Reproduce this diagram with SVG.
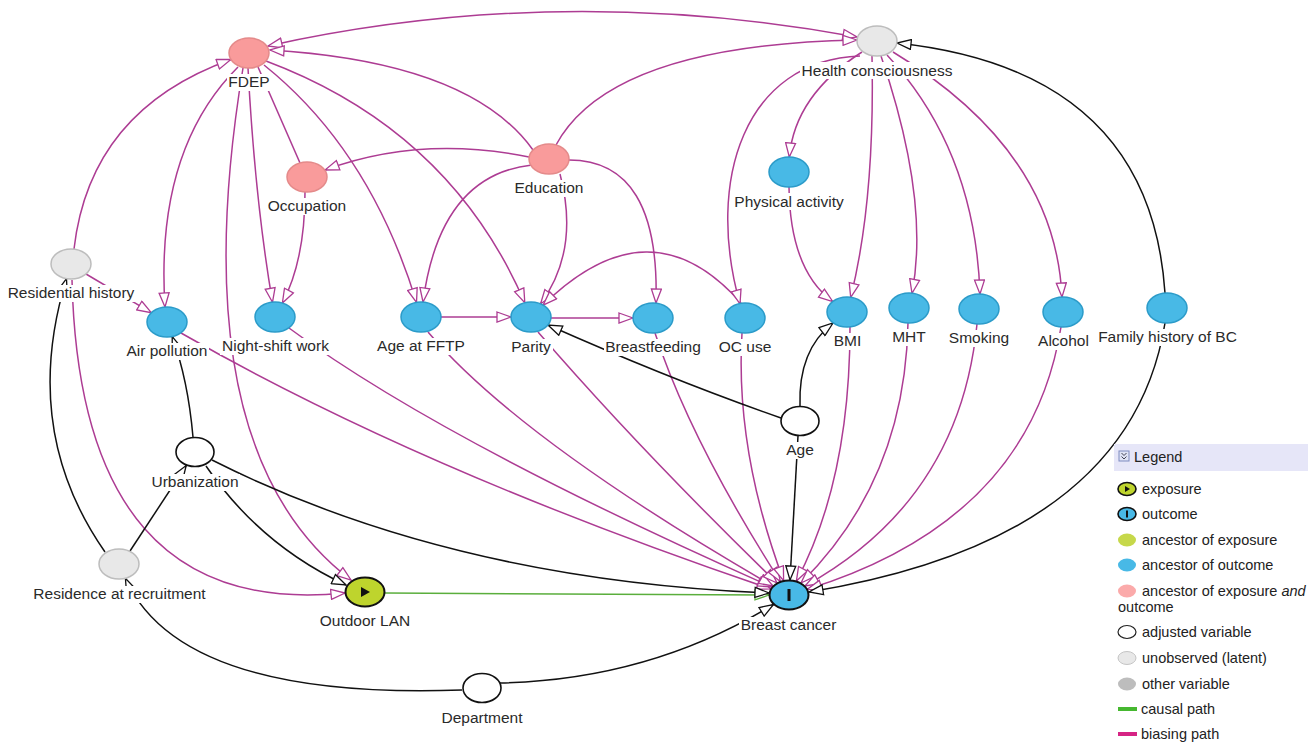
<svg xmlns="http://www.w3.org/2000/svg" width="1308" height="743" viewBox="0 0 1308 743">
<defs>
<style>
text{font-family:"Liberation Sans",Arial,sans-serif;font-size:15.5px;fill:#2a2a2a}
.lt{font-size:14.5px;fill:#222}
.p{fill:none;stroke:#ad3c93;stroke-width:1.5;marker-end:url(#ap)}
.b{fill:none;stroke:#111;stroke-width:1.5;marker-end:url(#ab)}
.g{fill:none;stroke:#5aae3c;stroke-width:1.5;marker-end:url(#ag)}
.bg{fill:#fff}
.anc{fill:#f99b9b;stroke:#e48a8a;stroke-width:1.5}
.out{fill:#48b9e6;stroke:#2b9bc9;stroke-width:1.5}
.lat{fill:#e8e8e8;stroke:#bdbdbd;stroke-width:1.5}
.adj{fill:#fff;stroke:#111;stroke-width:1.6}
</style>
<marker id="ap" viewBox="-1 -1 16 12" refX="14" refY="5" markerWidth="16" markerHeight="12" orient="auto-start-reverse" markerUnits="userSpaceOnUse"><path d="M0,0 L14,5 L0,10 Z" fill="#fff" stroke="#ad3c93" stroke-width="1.3"/></marker>
<marker id="ab" viewBox="-1 -1 16 12" refX="14" refY="5" markerWidth="16" markerHeight="12" orient="auto" markerUnits="userSpaceOnUse"><path d="M0,0 L14,5 L0,10 Z" fill="#fff" stroke="#111" stroke-width="1.3"/></marker>
<marker id="ag" viewBox="-1 -1 16 12" refX="14" refY="5" markerWidth="16" markerHeight="12" orient="auto" markerUnits="userSpaceOnUse"><path d="M0,0 L14,5 L0,10 Z" fill="#fff" stroke="#5aae3c" stroke-width="1.3"/></marker>
</defs>
<rect width="1308" height="743" fill="#fff"/>

<g id="connectors">
<path class="p" d="M268,46 Q557,-18 857,37" marker-start="url(#ap)"/>
<path class="p" d="M533,150 Q470,62 270,50"/>
<path class="p" d="M556,145 Q610,45 857,40"/>
<path class="p" d="M529,157 Q420,135 325,170"/>
<path class="p" d="M532,165 Q440,175 423,302"/>
<path class="p" d="M560,174 Q580,250 540.6,303.8"/>
<path class="p" d="M569,160 Q660,160 656,303"/>
<path d="M258,67 L300,163" fill="none" stroke="#ad3c93" stroke-width="1.5"/>
<path class="p" d="M238,67 Q155,150 165,307"/>
<path class="p" d="M248,68 Q255,200 272.5,302.2"/>
<path class="p" d="M243,68 Q180,450 351,580"/>
<path class="p" d="M264,65 Q370,150 416.5,302.4"/>
<path class="p" d="M266,61 Q450,130 524.8,302.7"/>
<path class="p" d="M74,249 Q90,110 230.9,59.5"/>
<path class="p" d="M86,274 L151.3,312.7"/>
<path class="p" d="M72,280 Q80,620 345,593"/>
<path class="p" d="M305,192 Q305,260 282.4,303"/>
<path class="p" d="M181,333 Q420,470 771,589"/>
<path class="p" d="M289,328 Q440,440 772,587"/>
<path class="p" d="M441,317 L511,317"/>
<path class="p" d="M428,332 Q520,440 773,586"/>
<path class="p" d="M551,318 L633,318"/>
<path class="p" d="M538,332 Q640,450 777,583"/>
<path class="p" d="M655,333 Q690,440 780.4,581.5"/>
<path class="p" d="M741,303 Q650,200 543.1,305.1"/>
<path class="p" d="M742,333 Q735,450 783.6,580.6"/>
<path class="p" d="M862,52 Q795,95 789.3,157"/>
<path class="p" d="M860,56 C745,60 705,180 740,304"/>
<path class="p" d="M872,56 Q875,200 850.7,297.3"/>
<path class="p" d="M881,56 Q930,200 912,293.3"/>
<path class="p" d="M887,55 Q975,150 980,294"/>
<path class="p" d="M893,52 Q1055,150 1062,297"/>
<path class="p" d="M789,187 Q790,270 832.7,301.5"/>
<path class="p" d="M850,327 Q850,480 796.4,581.1"/>
<path class="p" d="M908,323 Q905,480 801,583"/>
<path class="p" d="M977,324 Q960,500 805,586"/>
<path class="p" d="M1061,327 Q1030,520 807.4,589.3"/>
<path class="g" d="M385,593 L769,595"/>
<path class="b" d="M798,436 L790,580"/>
<path class="b" d="M212,460 Q450,580 769,593"/>
<path class="b" d="M206,466 Q260,545 346,585"/>
<path class="b" d="M105,552 Q20,430 66.5,278.6"/>
<path class="b" d="M130,551 L186.2,465.5"/>
<path class="b" d="M193,437 Q188,380 172.2,336.5"/>
<path class="b" d="M462,690 Q180,700 125.4,578.2"/>
<path class="b" d="M500,683 Q650,680 773.5,604.5"/>
<path class="b" d="M781,418 Q672,380 548,325"/>
<path class="b" d="M800,406 Q798,350 833,323"/>
<path class="b" d="M1165,293 Q1150,70 897,43"/>
<path class="b" d="M1165,323 Q1130,540 809,592"/>
</g>

<g id="n-fdep"><ellipse class="anc" cx="249" cy="53" rx="20" ry="15"/><rect class="bg" x="227" y="74" width="44" height="17"/><text x="249" y="87" text-anchor="middle">FDEP</text></g>
<g id="n-hc"><ellipse class="lat" cx="877" cy="41" rx="20" ry="15"/><rect class="bg" x="800" y="62" width="154" height="17"/><text x="877" y="76" text-anchor="middle">Health consciousness</text></g>
<g id="n-occupation"><ellipse class="anc" cx="307" cy="177" rx="20" ry="15"/><rect class="bg" x="266" y="198" width="82" height="17"/><text x="307" y="211" text-anchor="middle">Occupation</text></g>
<g id="n-education"><ellipse class="anc" cx="549" cy="159" rx="20" ry="15"/><rect class="bg" x="513" y="180" width="73" height="17"/><text x="549" y="193" text-anchor="middle">Education</text></g>
<g id="n-pa"><ellipse class="out" cx="789" cy="172" rx="20" ry="15"/><rect class="bg" x="733" y="193" width="112" height="17"/><text x="789" y="207" text-anchor="middle">Physical activity</text></g>
<g id="n-rh"><ellipse class="lat" cx="71" cy="264" rx="20" ry="15"/><rect class="bg" x="6" y="285" width="130" height="17"/><text x="71" y="298" text-anchor="middle">Residential history</text></g>
<g id="n-ap"><ellipse class="out" cx="167" cy="322" rx="20" ry="15"/><rect class="bg" x="125" y="343" width="84" height="17"/><text x="167" y="356" text-anchor="middle">Air pollution</text></g>
<g id="n-nsw"><ellipse class="out" cx="275" cy="317" rx="20" ry="15"/><rect class="bg" x="220" y="338" width="111" height="17"/><text x="275.5" y="351" text-anchor="middle">Night-shift work</text></g>
<g id="n-fftp"><ellipse class="out" cx="421" cy="317" rx="20" ry="15"/><rect class="bg" x="376" y="338" width="91" height="17"/><text x="421" y="351" text-anchor="middle">Age at FFTP</text></g>
<g id="n-parity"><ellipse class="out" cx="531" cy="317" rx="20" ry="15"/><rect class="bg" x="510" y="339" width="43" height="17"/><text x="531" y="352" text-anchor="middle">Parity</text></g>
<g id="n-bf"><ellipse class="out" cx="653" cy="318" rx="20" ry="15"/><rect class="bg" x="604" y="339" width="98" height="17"/><text x="653" y="352" text-anchor="middle">Breastfeeding</text></g>
<g id="n-oc"><ellipse class="out" cx="745" cy="318" rx="20" ry="15"/><rect class="bg" x="717" y="339" width="56" height="17"/><text x="745" y="352" text-anchor="middle">OC use</text></g>
<g id="n-bmi"><ellipse class="out" cx="847" cy="312" rx="20" ry="15"/><rect class="bg" x="832" y="333" width="31" height="17"/><text x="847.5" y="346" text-anchor="middle">BMI</text></g>
<g id="n-mht"><ellipse class="out" cx="909" cy="308" rx="20" ry="15"/><rect class="bg" x="891" y="329" width="36" height="17"/><text x="909" y="342" text-anchor="middle">MHT</text></g>
<g id="n-smoking"><ellipse class="out" cx="979" cy="309" rx="20" ry="15"/><rect class="bg" x="947" y="330" width="64" height="17"/><text x="979" y="343" text-anchor="middle">Smoking</text></g>
<g id="n-alcohol"><ellipse class="out" cx="1063" cy="312" rx="20" ry="15"/><rect class="bg" x="1036" y="333" width="55" height="17"/><text x="1063.5" y="346" text-anchor="middle">Alcohol</text></g>
<g id="n-fh"><ellipse class="out" cx="1167" cy="308" rx="20" ry="15"/><rect class="bg" x="1097" y="329" width="141" height="17"/><text x="1167.5" y="342" text-anchor="middle">Family history of BC</text></g>
<g id="n-age"><ellipse class="adj" cx="800" cy="421" rx="19" ry="14.5"/><rect class="bg" x="784" y="442" width="32" height="17"/><text x="800" y="455" text-anchor="middle">Age</text></g>
<g id="n-urb"><ellipse class="adj" cx="195" cy="452" rx="19" ry="14.5"/><rect class="bg" x="150" y="474" width="90" height="17"/><text x="195" y="487" text-anchor="middle">Urbanization</text></g>
<g id="n-rar"><ellipse class="lat" cx="119" cy="564" rx="20" ry="15"/><rect class="bg" x="32" y="586" width="175" height="17"/><text x="119.5" y="599" text-anchor="middle">Residence at recruitment</text></g>
<g id="n-lan"><ellipse cx="365" cy="592" rx="19.5" ry="14.5" fill="#bed42d" stroke="#111" stroke-width="2"/><path d="M361,587 L370,592 L361,597 Z" fill="#111"/><rect class="bg" x="318" y="613" width="94" height="17"/><text x="365" y="626" text-anchor="middle">Outdoor LAN</text></g>
<g id="n-bc"><ellipse cx="789" cy="595" rx="19.5" ry="14.5" fill="#48b9e6" stroke="#111" stroke-width="2"/><rect x="787.5" y="589" width="3" height="12" fill="#111"/><rect class="bg" x="739" y="617" width="99" height="17"/><text x="788.5" y="630" text-anchor="middle">Breast cancer</text></g>
<g id="n-dept"><ellipse class="adj" cx="482" cy="688" rx="19" ry="14.5"/><rect class="bg" x="440" y="710" width="84" height="17"/><text x="482" y="723" text-anchor="middle">Department</text></g>

<g id="legend">
<rect x="1114" y="444" width="194" height="27" fill="#e6e6f8"/>
<rect x="1119" y="451" width="10" height="10" fill="#dfe3f5" stroke="#7f8bbf" stroke-width="1"/>
<path d="M1121.5,453 L1124,455.5 L1126.5,453 M1121.5,456.5 L1124,459 L1126.5,456.5" fill="none" stroke="#445" stroke-width="1"/>
<text class="lt" x="1134" y="462">Legend</text>
<ellipse cx="1127" cy="489" rx="9" ry="6.5" fill="#bed42d" stroke="#111" stroke-width="1.6"/><path d="M1125,486 L1130,489 L1125,492 Z" fill="#111"/>
<text class="lt" x="1142" y="494">exposure</text>
<ellipse cx="1127" cy="514" rx="9" ry="6.5" fill="#48b9e6" stroke="#111" stroke-width="1.6"/><rect x="1126" y="510.5" width="2" height="7" fill="#111"/>
<text class="lt" x="1142" y="519">outcome</text>
<ellipse cx="1127" cy="540" rx="9" ry="6.5" fill="#c6d84a"/>
<text class="lt" x="1142" y="545">ancestor of exposure</text>
<ellipse cx="1127" cy="565" rx="9" ry="6.5" fill="#48b9e6"/>
<text class="lt" x="1142" y="570">ancestor of outcome</text>
<ellipse cx="1127" cy="591" rx="9" ry="6.5" fill="#fbaaaa"/>
<text class="lt" x="1142" y="596">ancestor of exposure <tspan font-style="italic">and</tspan></text>
<text class="lt" x="1118" y="612">outcome</text>
<ellipse cx="1127" cy="632" rx="9" ry="6.5" fill="#fff" stroke="#222" stroke-width="1.2"/>
<text class="lt" x="1142" y="637">adjusted variable</text>
<ellipse cx="1127" cy="658" rx="9" ry="6.5" fill="#e8e8e8" stroke="#c4c4c4" stroke-width="1"/>
<text class="lt" x="1142" y="663">unobserved (latent)</text>
<ellipse cx="1127" cy="684" rx="9" ry="6.5" fill="#bdbdbd"/>
<text class="lt" x="1142" y="689">other variable</text>
<line x1="1118" y1="709" x2="1137" y2="709" stroke="#46b830" stroke-width="4"/>
<text class="lt" x="1141" y="714">causal path</text>
<line x1="1118" y1="734" x2="1137" y2="734" stroke="#d62484" stroke-width="4"/>
<text class="lt" x="1141" y="739">biasing path</text>
</g>
</svg>
